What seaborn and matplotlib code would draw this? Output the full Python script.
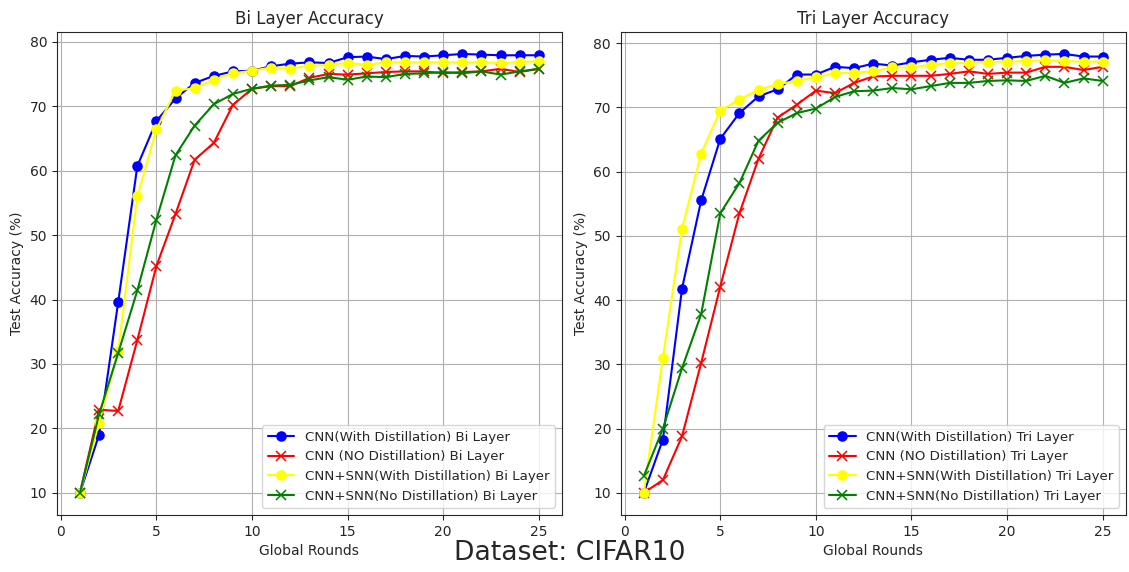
import numpy as np
import pandas as pd
import matplotlib
matplotlib.use("Agg")
import matplotlib.pyplot as plt
import seaborn as sns

# global rounds
rounds = list(range(1, 26))

# Bi layer accuracies (%)
bi_cnn_kd = [10.0, 19.0, 39.6, 60.7, 67.7, 71.2, 73.6, 74.7, 75.4, 75.5, 76.2, 76.6, 76.8, 76.7, 77.6,
             77.7, 77.3, 77.8, 77.7, 77.9, 78.1, 78.0, 77.9, 77.9, 77.9]
bi_cnn_nokd = [10.0, 22.9, 22.7, 33.7, 45.2, 53.3, 61.7, 64.3, 70.2, 72.7, 73.1, 73.1, 74.4, 75.0, 74.9,
               75.1, 75.3, 75.4, 75.4, 75.1, 75.3, 75.4, 75.8, 75.3, 75.8]
bi_snn_kd = [10.0, 20.9, 32.0, 56.0, 66.4, 72.4, 72.8, 74.1, 75.1, 75.5, 76.0, 75.8, 76.3, 76.4, 76.7,
             76.4, 76.8, 76.8, 76.8, 76.8, 76.8, 76.8, 76.7, 76.8, 77.0]
bi_snn_nokd = [10.0, 22.2, 31.7, 41.4, 52.4, 62.4, 67.0, 70.3, 71.9, 72.7, 73.2, 73.3, 74.0, 74.5, 74.1,
               74.6, 74.5, 75.0, 75.1, 75.3, 75.1, 75.4, 74.9, 75.4, 75.8]

# Tri layer accuracies (%)
tri_cnn_kd = [10.0, 18.3, 41.8, 55.5, 65.1, 69.1, 71.7, 72.8, 75.1, 75.1, 76.3, 76.1, 76.8, 76.5, 77.0,
              77.4, 77.7, 77.4, 77.4, 77.7, 78.0, 78.2, 78.3, 77.9, 77.9]
tri_cnn_nokd = [10.0, 12.0, 18.8, 30.2, 42.1, 53.5, 62.0, 68.4, 70.4, 72.6, 72.2, 73.8, 74.8, 74.9, 74.9,
                74.9, 75.2, 75.6, 75.2, 75.4, 75.4, 76.3, 76.3, 75.8, 76.3]
tri_snn_kd = [10.0, 31.0, 51.1, 62.8, 69.5, 71.2, 72.7, 73.6, 74.1, 74.7, 75.3, 75.4, 75.6, 76.2, 76.2,
              76.6, 76.9, 76.9, 77.1, 77.1, 77.2, 77.3, 77.2, 77.1, 77.1]
tri_snn_nokd = [12.6, 20.0, 29.4, 37.8, 53.5, 58.2, 64.8, 67.6, 69.1, 69.8, 71.6, 72.5, 72.6, 73.0, 72.8,
                73.3, 73.8, 73.8, 74.1, 74.2, 74.1, 74.9, 73.8, 74.5, 74.1]

series_names = ["CNN(With Distillation)", "CNN (NO Distillation)",
                "CNN+SNN(With Distillation)", "CNN+SNN(No Distillation)"]
colors = ["blue", "red", "yellow", "green"]
markers = ["o", "x", "o", "x"]

panels = [
    ("Bi", [bi_cnn_kd, bi_cnn_nokd, bi_snn_kd, bi_snn_nokd]),
    ("Tri", [tri_cnn_kd, tri_cnn_nokd, tri_snn_kd, tri_snn_nokd]),
]

sns.set_style("ticks")
fig, axes = plt.subplots(1, 2, figsize=(11.29, 5.72), dpi=100)
fig.subplots_adjust(left=0.0505, right=0.997, top=0.944, bottom=0.100, wspace=0.117)

for ax, (layer, data) in zip(axes, panels):
    for name, vals, c, m in zip(series_names, data, colors, markers):
        df = pd.DataFrame({"round": rounds, "acc": vals})
        sns.lineplot(data=df, x="round", y="acc", ax=ax, color=c, marker=m,
                     markersize=6.5, markeredgecolor=c, markeredgewidth=1.1,
                     linewidth=1.5, label=f"{name} {layer} Layer")
    ax.set_title(f"{layer} Layer Accuracy", fontsize=12)
    ax.set_xlabel("Global Rounds", fontsize=10)
    ax.set_ylabel("Test Accuracy (%)", fontsize=10)
    ax.grid(True, color="#b0b0b0", linewidth=0.8)
    ax.legend(loc="lower right", fontsize=9.6)
    ax.set_xticks([0, 5, 10, 15, 20, 25])
    ax.set_yticks([10, 20, 30, 40, 50, 60, 70, 80])

fig.text(0.505, 0.01, "Dataset: CIFAR10", ha="center", va="bottom", fontsize=19.2)

fig.savefig("out.png", dpi=100)
